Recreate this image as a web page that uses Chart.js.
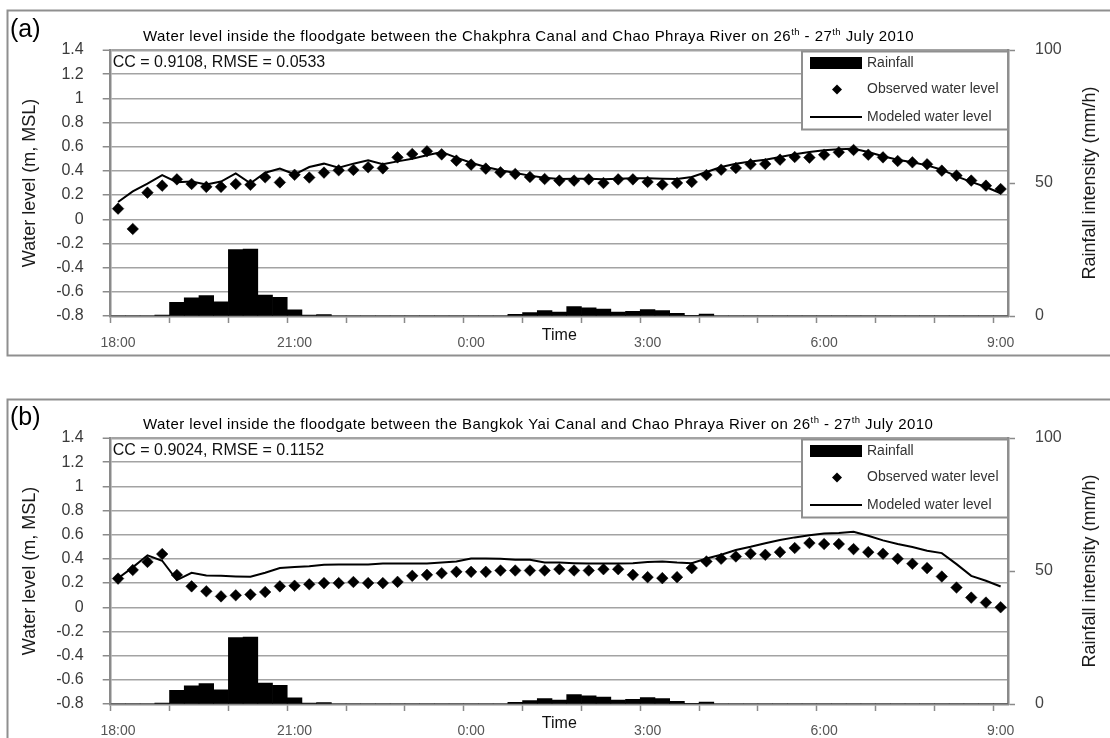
<!DOCTYPE html>
<html>
<head>
<meta charset="utf-8">
<script src="https://cdn.jsdelivr.net/npm/chart.js@4.4.1/dist/chart.umd.min.js"></script>
<style>
  html, body { margin: 0; padding: 0; background: #fff; width: 1110px; height: 738px; overflow: hidden; }
  .panel { position: absolute; left: 0; width: 1110px; height: 389px; }
  canvas { display: block; }
</style>
</head>
<body>
<div class="panel" style="top:0"><canvas id="panelA" width="1110" height="389"></canvas></div>
<div class="panel" style="top:388px"><canvas id="panelB" width="1110" height="389"></canvas></div>
<script>
// 15-minute time steps, 26 July 18:00 to 27 July 9:00
const times = [
  '18:00','18:15','18:30','18:45','19:00','19:15','19:30','19:45',
  '20:00','20:15','20:30','20:45','21:00','21:15','21:30','21:45',
  '22:00','22:15','22:30','22:45','23:00','23:15','23:30','23:45',
  '0:00','0:15','0:30','0:45','1:00','1:15','1:30','1:45',
  '2:00','2:15','2:30','2:45','3:00','3:15','3:30','3:45',
  '4:00','4:15','4:30','4:45','5:00','5:15','5:30','5:45',
  '6:00','6:15','6:30','6:45','7:00','7:15','7:30','7:45',
  '8:00','8:15','8:30','8:45','9:00'
];

// Rainfall intensity (mm/h)
const rainfall = [
  0, 0, 0, 0.3, 5.1, 6.8, 7.7, 5.3, 25.0, 25.2,
  7.9, 7.0, 2.3, 0.3, 0.5, 0, 0, 0, 0, 0,
  0, 0, 0, 0, 0, 0, 0, 0.6, 1.25, 2.0,
  1.5, 3.5, 3.1, 2.6, 1.5, 1.75, 2.4, 2.0, 1.0, 0.25,
  0.75, 0, 0, 0, 0, 0, 0, 0, 0, 0,
  0, 0, 0, 0, 0, 0, 0, 0, 0, 0,
  0
];

// Chakphra Canal floodgate water level (m, MSL)
const observedA = [
  0.088, -0.08, 0.22, 0.278, 0.33, 0.292, 0.268, 0.268, 0.292, 0.285,
  0.347, 0.305, 0.368, 0.345, 0.386, 0.405, 0.408, 0.43, 0.421, 0.512,
  0.54, 0.562, 0.537, 0.485, 0.452, 0.419, 0.388, 0.375, 0.35, 0.333,
  0.32, 0.32, 0.33, 0.30, 0.33, 0.33, 0.309, 0.287, 0.30, 0.309,
  0.366, 0.41, 0.424, 0.455, 0.457, 0.493, 0.515, 0.51, 0.534, 0.554,
  0.573, 0.534, 0.512, 0.482, 0.471, 0.455, 0.402, 0.361, 0.32, 0.278,
  0.25
];
const modeledA = [
  0.143, 0.23, 0.295, 0.365, 0.307, 0.312, 0.288, 0.312, 0.38, 0.298,
  0.385, 0.419, 0.372, 0.432, 0.46, 0.427, 0.46, 0.487, 0.455, 0.479,
  0.501, 0.529, 0.556, 0.51, 0.468, 0.432, 0.405, 0.383, 0.361, 0.344,
  0.333, 0.336, 0.336, 0.33, 0.336, 0.34, 0.34, 0.336, 0.333, 0.35,
  0.391, 0.432, 0.46, 0.477, 0.493, 0.515, 0.537, 0.556, 0.57, 0.579,
  0.584, 0.556, 0.521, 0.493, 0.471, 0.446, 0.41, 0.355, 0.309, 0.267,
  0.215
];

// Bangkok Yai Canal floodgate water level (m, MSL)
const observedB = [
  0.237, 0.308, 0.375, 0.44, 0.267, 0.173, 0.132, 0.09, 0.099, 0.105,
  0.126, 0.173, 0.178, 0.19, 0.2, 0.2, 0.209, 0.2, 0.2, 0.21,
  0.26, 0.268, 0.282, 0.293, 0.293, 0.293, 0.304, 0.304, 0.304, 0.304,
  0.315, 0.304, 0.304, 0.315, 0.315, 0.268, 0.249, 0.241, 0.249, 0.324,
  0.379, 0.401, 0.42, 0.443, 0.434, 0.456, 0.49, 0.531, 0.523, 0.523,
  0.481, 0.456, 0.443, 0.401, 0.36, 0.324, 0.254, 0.163, 0.08, 0.039,
  0.0
];
const modeledB = [
  0.24, 0.33, 0.43, 0.385, 0.225, 0.285, 0.262, 0.26, 0.255, 0.252,
  0.285, 0.325, 0.333, 0.34, 0.352, 0.354, 0.354, 0.354, 0.362, 0.362,
  0.362, 0.362, 0.37, 0.379, 0.404, 0.404, 0.401, 0.393, 0.393, 0.37,
  0.37, 0.365, 0.362, 0.362, 0.362, 0.365, 0.375, 0.378, 0.37, 0.365,
  0.404, 0.434, 0.473, 0.5, 0.53, 0.556, 0.578, 0.595, 0.611, 0.614,
  0.625, 0.592, 0.553, 0.523, 0.498, 0.467, 0.448, 0.357, 0.26, 0.219,
  0.172
];

// Axis tick values
const waterTicks = [-0.8, -0.6, -0.4, -0.2, 0, 0.2, 0.4, 0.6, 0.8, 1, 1.2, 1.4];
const rainTicks = [0, 50, 100];

const seriesNames = ['Rainfall', 'Observed water level', 'Modeled water level'];

const FONT = "'Liberation Sans', Arial, sans-serif";
const GRID = '#a3a3a3';
const AXIS = '#8a8a8a';

const decor = {
  id: 'panelDecor',
  beforeDraw(chart, args, o) {
    const ctx = chart.ctx;
    ctx.save();
    ctx.strokeStyle = '#8f8f8f';
    ctx.lineWidth = 2;
    ctx.strokeRect(7.5, o.frameTop, 1200, 345);
    ctx.restore();
  },
  afterDraw(chart, args, o) {
    const ctx = chart.ctx;
    const ca = chart.chartArea;
    ctx.save();
    ctx.fillStyle = '#000';
    ctx.textBaseline = 'alphabetic';

    // panel letter
    ctx.font = '25px ' + FONT;
    ctx.textAlign = 'left';
    ctx.fillText(o.letter, 10, 37);

    // title with superscripts
    let x = 143;
    ctx.letterSpacing = '0.45px';
    o.titleParts.forEach(([text, sup]) => {
      ctx.font = (sup ? '9.5px ' : '15px ') + FONT;
      ctx.fillText(text, x, sup ? 34.5 : 40.5);
      x += ctx.measureText(text).width;
    });
    ctx.letterSpacing = '0px';

    // goodness-of-fit note
    ctx.font = '16px ' + FONT;
    ctx.fillStyle = '#111';
    ctx.fillText(o.stats, ca.left + 2, 67);

    // x-axis name
    ctx.font = '16px ' + FONT;
    ctx.textAlign = 'center';
    ctx.textBaseline = 'middle';
    ctx.fillStyle = '#111';
    ctx.fillText('Time', (ca.left + ca.right) / 2, ca.bottom + 20);

    // right-axis name (reads bottom to top)
    ctx.save();
    ctx.translate(1090, (ca.top + ca.bottom) / 2);
    ctx.rotate(-Math.PI / 2);
    ctx.font = '18px ' + FONT;
    ctx.fillStyle = '#1a1a1a';
    ctx.fillText('Rainfall intensity (mm/h)', 0, 0);
    ctx.restore();

    // legend
    const ds = chart.data.datasets;
    const lx = 802, ly = 51.5, lw = ca.right - 802, lh = 78;
    ctx.fillStyle = '#fff';
    ctx.fillRect(lx, ly, lw, lh);
    ctx.strokeStyle = '#8f8f8f';
    ctx.lineWidth = 2;
    ctx.strokeRect(lx, ly, lw, lh);

    ctx.textAlign = 'left';
    ctx.textBaseline = 'middle';
    ctx.font = '14px ' + FONT;
    const rows = [63, 89.5, 117];
    // rainfall swatch
    ctx.fillStyle = ds[0].backgroundColor;
    ctx.fillRect(810, rows[0] - 6, 52, 12);
    // observed marker
    ctx.beginPath();
    ctx.moveTo(837 - 5, rows[1]);
    ctx.lineTo(837, rows[1] - 5);
    ctx.lineTo(837 + 5, rows[1]);
    ctx.lineTo(837, rows[1] + 5);
    ctx.closePath();
    ctx.fillStyle = ds[1].backgroundColor;
    ctx.fill();
    // modeled line sample
    ctx.beginPath();
    ctx.moveTo(810, rows[2]);
    ctx.lineTo(862, rows[2]);
    ctx.strokeStyle = ds[2].borderColor;
    ctx.lineWidth = 2;
    ctx.stroke();

    ctx.fillStyle = '#333';
    seriesNames.forEach((name, i) => ctx.fillText(name, 867, rows[i]));
    ctx.restore();
  }
};

function buildPanel(id, observed, modeled, opts) {
  const canvasH = 389;
  return new Chart(document.getElementById(id), {
    type: 'bar',
    data: {
      labels: times,
      datasets: [
        {
          type: 'bar', label: seriesNames[0], data: rainfall, yAxisID: 'yRain',
          backgroundColor: '#000', borderWidth: 0,
          barPercentage: 1, categoryPercentage: 1, order: 3
        },
        {
          type: 'line', label: seriesNames[1], data: observed, yAxisID: 'yWater',
          showLine: false, pointStyle: 'rectRot', pointRadius: 5.8,
          pointBackgroundColor: '#000', backgroundColor: '#000',
          pointBorderColor: '#000', pointBorderWidth: 0.5, order: 1
        },
        {
          type: 'line', label: seriesNames[2], data: modeled, yAxisID: 'yWater',
          borderColor: '#000', borderWidth: 2, pointRadius: 0, tension: 0,
          fill: false, order: 2
        }
      ]
    },
    options: {
      responsive: false,
      animation: false,
      events: [],
      layout: { padding: { top: 50, left: 0, right: 0, bottom: 0 } },
      plugins: {
        legend: { display: false },
        tooltip: { enabled: false },
        title: { display: false },
        panelDecor: opts
      },
      scales: {
        x: {
          type: 'category',
          offset: true,
          afterFit: (s) => { s.height = canvasH - 316; },
          border: { color: AXIS, width: 2.5 },
          grid: {
            offset: true,
            drawOnChartArea: false,
            drawTicks: true,
            tickLength: 7,
            tickWidth: 1.5,
            tickColor: (c) => (c.index % 4 === 0 ? AXIS : 'rgba(0,0,0,0)')
          },
          ticks: {
            autoSkip: false,
            maxRotation: 0,
            minRotation: 0,
            padding: 12,
            color: '#555',
            font: { family: FONT, size: 14 },
            callback: (v, i) => (i % 12 === 0 ? times[i] : '')
          }
        },
        yWater: {
          type: 'linear',
          position: 'left',
          min: -0.8,
          max: 1.4,
          afterFit: (s) => { s.width = 110.7; },
          afterBuildTicks: (s) => { s.ticks = waterTicks.map((v) => ({ value: v })); },
          border: { color: AXIS, width: 2.5 },
          grid: {
            color: GRID,
            lineWidth: (c) => (c.tick && c.tick.value === 1.4 ? 2.5 : 1.5),
            tickLength: 8,
            tickColor: AXIS,
            tickWidth: 1.5
          },
          ticks: {
            padding: 19,
            color: '#3a3a3a',
            font: { family: FONT, size: 16 },
            callback: (v) => String(Math.round(v * 10) / 10)
          },
          title: {
            display: true,
            text: 'Water level (m, MSL)',
            color: '#1a1a1a',
            font: { family: FONT, size: 18 },
            padding: { top: 19, bottom: 0 }
          }
        },
        yRain: {
          type: 'linear',
          position: 'right',
          min: 0,
          max: 100,
          afterFit: (s) => { s.width = 1110 - 1008; },
          afterBuildTicks: (s) => { s.ticks = rainTicks.map((v) => ({ value: v })); },
          border: { color: AXIS, width: 2.5 },
          grid: {
            drawOnChartArea: false,
            tickLength: 7,
            tickColor: AXIS,
            tickWidth: 1.5
          },
          ticks: {
            padding: 20,
            color: '#444',
            font: { family: FONT, size: 16 }
          }
        }
      }
    },
    plugins: [decor]
  });
}

buildPanel('panelA', observedA, modeledA, {
  letter: '(a)',
  frameTop: 10.5,
  stats: 'CC = 0.9108, RMSE = 0.0533',
  titleParts: [
    ['Water level inside the floodgate between the Chakphra Canal and Chao Phraya River on 26', false],
    ['th', true], [' - 27', false], ['th', true], [' July 2010', false]
  ]
});

buildPanel('panelB', observedB, modeledB, {
  letter: '(b)',
  frameTop: 11.5,
  stats: 'CC = 0.9024, RMSE = 0.1152',
  titleParts: [
    ['Water level inside the floodgate between the Bangkok Yai Canal and Chao Phraya River on 26', false],
    ['th', true], [' - 27', false], ['th', true], [' July 2010', false]
  ]
});
</script>
</body>
</html>
